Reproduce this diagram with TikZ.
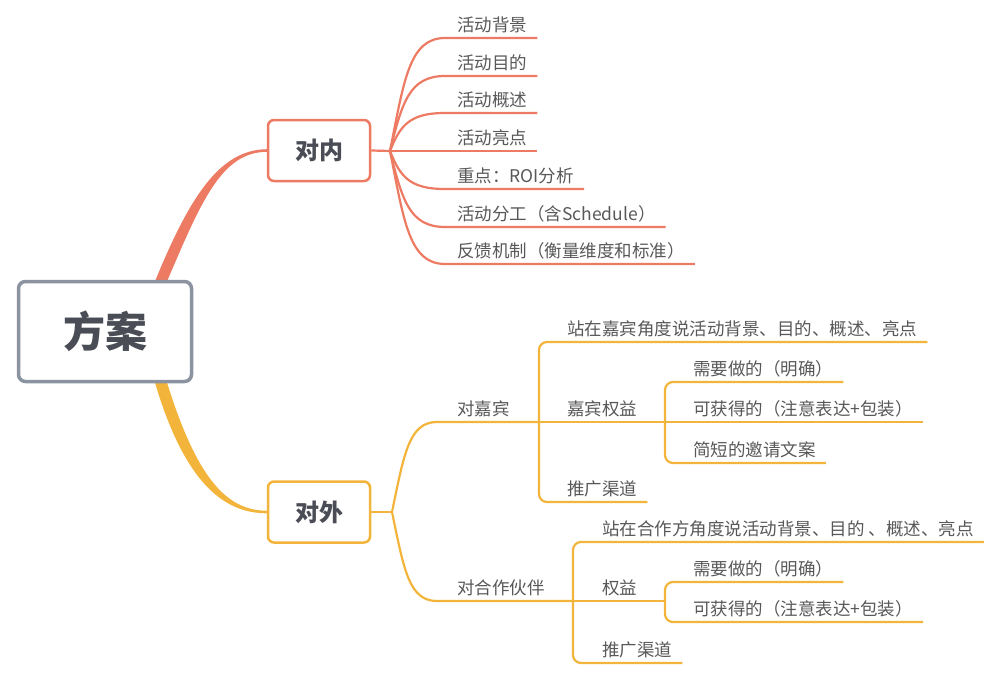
\documentclass[tikz,border=0pt]{standalone}
\usepackage{fontspec}
\setmainfont{Noto Sans CJK SC}
\usetikzlibrary{positioning, calc, backgrounds}
\definecolor{rootgray}{HTML}{8C93A0}
\definecolor{neired}{HTML}{ED7A62}
\definecolor{waiyel}{HTML}{F3B43B}
\definecolor{boxtext}{HTML}{4A4D55}
\definecolor{leaftext}{HTML}{585858}

\begin{document}
\begin{tikzpicture}[x=1pt, y=-1pt,
  rootbox/.style={draw=rootgray, line width=3.5pt, rounded corners=7pt, fill=white,
    minimum width=173pt, minimum height=100pt, text=boxtext,
    font=\fontsize{42}{48}\selectfont\bfseries},
  topicbox/.style={draw=#1, line width=2.5pt, rounded corners=6pt, fill=white,
    minimum width=102pt, minimum height=61pt, text=boxtext,
    font=\fontsize{24}{28}\selectfont\bfseries},
  leaf/.style={anchor=south west, inner xsep=0pt, inner ysep=5pt, text height=0.88em,
    text depth=0.12em, text=leaftext, font=\fontsize{17.5}{20}\selectfont},
  rbr/.style={draw=neired, line width=2.2pt},
  ybr/.style={draw=waiyel, line width=2.2pt, rounded corners=8pt}]
\useasboundingbox (0,0) rectangle (1000,674);

% main boxes
\node[rootbox] (root) at (105,331.5) {方案};
\node[topicbox=neired] (nei) at (319,150.5) {对内};
\node[topicbox=waiyel] (wai) at (319,512) {对外};

% thick branches from the root
\begin{scope}[on background layer]
\fill[neired] ([xshift=49pt,yshift=-4pt]root.north) .. controls (189,198) and (219,149.7)
  .. ([yshift=1.3pt]nei.west) -- ([yshift=-1.3pt]nei.west)
  .. controls (221,152.3) and (201,202) .. ([xshift=61pt,yshift=-4pt]root.north) -- cycle;
\fill[waiyel] ([xshift=49pt,yshift=4pt]root.south) .. controls (184,483) and (224,513.3)
  .. ([yshift=-1.3pt]wai.west) -- ([yshift=1.3pt]wai.west)
  .. controls (226,510.7) and (196,477) .. ([xshift=61pt,yshift=4pt]root.south) -- cycle;
\end{scope}

% inner side
\node[leaf] (n1) at (457,38)  {活动背景};
\node[leaf] (n2) at (457,76)  {活动目的};
\node[leaf] (n3) at (457,113) {活动概述};
\node[leaf] (n4) at (457,151) {活动亮点};
\node[leaf] (n5) at (457,189) {重点：ROI分析};
\node[leaf] (n6) at (457,227) {活动分工（含Schedule）};
\node[leaf] (n7) at (457,264) {反馈机制（衡量维度和标准）};

\coordinate (neif) at (390,151);
\draw[rbr] (nei.east) -- (neif);
\foreach \n/\cx/\cy in {n1/14/-70, n2/12/-48, n3/10/-25, n5/10/25, n6/12/48, n7/14/70}
  \draw[rbr] (neif) .. controls +(\cx,\cy) and +(-36,0) .. ([xshift=-12pt]\n.south west)
    -- ([xshift=10pt]\n.south east);
\draw[rbr] (neif) -- ([xshift=10pt]n4.south east);

% outer side
\node[leaf] (guest) at (457,422) {对嘉宾};
\node[leaf] (g1)  at (567,342) {站在嘉宾角度说活动背景、目的、概述、亮点};
\node[leaf] (g2)  at (567,422) {嘉宾权益};
\node[leaf] (g3)  at (567,502) {推广渠道};
\node[leaf] (g21) at (693,382) {需要做的（明确）};
\node[leaf] (g22) at (693,422) {可获得的（注意表达+包装）};
\node[leaf] (g23) at (693,463) {简短的邀请文案};

\node[leaf] (part) at (457,601) {对合作伙伴};
\node[leaf] (p1)  at (602,542) {站在合作方角度说活动背景、目的 、概述、亮点};
\node[leaf] (p2)  at (602,601) {权益};
\node[leaf] (p3)  at (602,663) {推广渠道};
\node[leaf] (p21) at (693,582) {需要做的（明确）};
\node[leaf] (p22) at (693,622) {可获得的（注意表达+包装）};

\coordinate (waif)   at (392,512);
\coordinate (guestf) at (539,422);
\coordinate (gf2)    at (665,422);
\coordinate (partf)  at (573,601);
\coordinate (pf2)    at (665,601);

\draw[ybr] (wai.east) -- (waif);
\draw[ybr] (waif) .. controls +(12,-58) and +(-36,0) .. ([xshift=-12pt]guest.south west) -- (guestf);
\draw[ybr] (waif) .. controls +(12,58) and +(-36,0) .. ([xshift=-12pt]part.south west) -- (partf);

\draw[ybr] (guestf) -- (gf2);
\draw[ybr] (partf) -- (pf2);
\foreach \f/\n in {guestf/g1, guestf/g3, gf2/g21, gf2/g23, partf/p1, partf/p3, pf2/p21, pf2/p22}
  \draw[ybr] (\f) |- ([xshift=10pt]\n.south east);
\draw[ybr] (gf2) -- ([xshift=10pt]g22.south east);
\end{tikzpicture}
\end{document}
